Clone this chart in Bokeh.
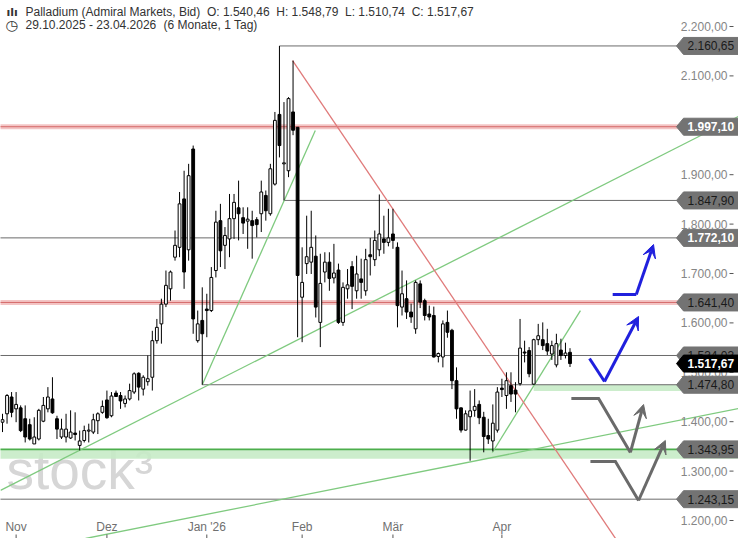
import numpy as np
from bokeh.plotting import figure
from bokeh.models import Label, Arrow, VeeHead, Range1d
from bokeh.core.properties import value
from bokeh.embed import file_html
from bokeh.resources import INLINE

# ---------------- data ----------------
opens = [1399, 1416, 1450, 1426, 1428, 1406, 1394, 1355, 1365, 1401,
         1426, 1446, 1406, 1369, 1369, 1367, 1377, 1352, 1362, 1381,
         1379, 1402, 1419, 1444, 1412, 1458, 1453, 1437, 1446, 1460,
         1498, 1466, 1481, 1490, 1564, 1598, 1638, 1669, 1733, 1753,
         1851, 1748, 1952, 1564, 1605, 1628, 1625, 1706, 1807, 1757,
         1770, 1811, 1833, 1813, 1806, 1807, 1809, 1821, 1858, 1821,
         1881, 2022, 1922, 1908, 2027, 1996, 1652, 1720, 1723, 1735,
         1601, 1703, 1723, 1691, 1707, 1601, 1669, 1714, 1665, 1689,
         1665, 1738, 1728, 1748, 1770, 1763, 1780, 1753, 1632, 1649,
         1622, 1588, 1679, 1645, 1618, 1615, 1532, 1531, 1601, 1585,
         1483, 1428, 1383, 1410, 1423, 1435, 1409, 1372, 1361, 1383,
         1468, 1453, 1473, 1464, 1477, 1541, 1544, 1476, 1566, 1566,
         1558, 1537, 1515, 1545, 1534, 1540.46]
highs = [1416, 1456, 1460, 1460, 1433, 1433, 1406, 1409, 1426, 1450,
         1470, 1490, 1412, 1406, 1416, 1423, 1419, 1382, 1392, 1396,
         1416, 1419, 1443, 1463, 1460, 1463, 1460, 1453, 1477, 1500,
         1500, 1494, 1534, 1584, 1608, 1649, 1706, 1706, 1787, 1865,
         1908, 1922, 1959, 1625, 1672, 1659, 1713, 1827, 1841, 1794,
         1861, 1861, 1888, 1834, 1834, 1827, 1814, 1888, 1868, 1922,
         2027, 2160.65, 2047, 2057, 2131, 1996, 1753, 1817, 1827, 1777,
         1740, 1743, 1743, 1760, 1720, 1682, 1709, 1725, 1736, 1730,
         1750, 1772, 1787, 1860, 1817, 1831, 1831, 1763, 1706, 1686,
         1639, 1686, 1686, 1649, 1635, 1633, 1540, 1605, 1625, 1588,
         1510, 1429, 1423, 1463, 1466, 1443, 1420, 1406, 1435, 1470,
         1487, 1500, 1500, 1480, 1608, 1564, 1551, 1568, 1598, 1601,
         1588, 1564, 1578, 1568, 1560, 1548.79]
lows = [1379, 1396, 1409, 1399, 1379, 1358, 1362, 1355, 1362, 1399,
        1419, 1416, 1365, 1365, 1358, 1365, 1362, 1342, 1358, 1358,
        1375, 1375, 1416, 1406, 1409, 1450, 1426, 1429, 1443, 1456,
        1443, 1453, 1473, 1463, 1558, 1558, 1632, 1645, 1726, 1733,
        1669, 1726, 1578, 1560, 1474.8, 1571, 1622, 1692, 1713, 1709,
        1733, 1770, 1767, 1780, 1750, 1730, 1773, 1784, 1807, 1817,
        1878, 1935, 1847.9, 1895, 1980, 1571, 1561, 1699, 1699, 1611,
        1551, 1682, 1665, 1680, 1598, 1594, 1649, 1628, 1649, 1649,
        1655, 1696, 1715, 1735, 1740, 1755, 1750, 1591, 1615, 1608,
        1600, 1578, 1630, 1605, 1605, 1530, 1520, 1510, 1570, 1466,
        1406, 1378, 1382, 1321, 1410, 1395, 1338, 1355, 1340, 1378,
        1450, 1426, 1440, 1419, 1473, 1520, 1490, 1474.8, 1555, 1545,
        1535, 1525, 1510, 1525, 1528, 1510.74]
closes = [1404, 1453, 1419, 1435, 1382, 1369, 1365, 1369, 1423, 1433,
          1450, 1418, 1385, 1385, 1385, 1379, 1374, 1361, 1382, 1383,
          1404, 1416, 1431, 1408, 1452, 1451, 1442, 1446, 1463, 1497,
          1470, 1490, 1487, 1564, 1591, 1638, 1676, 1703, 1757, 1841,
          1703, 1898, 1608, 1598, 1578, 1625, 1692, 1804, 1746, 1777,
          1811, 1844, 1821, 1802, 1810, 1797, 1799, 1865, 1827, 1912,
          2010, 1959, 1924, 2054, 1990, 1696, 1682, 1734, 1753, 1632,
          1680, 1723, 1690, 1701, 1601, 1672, 1677, 1674, 1699, 1682,
          1728, 1734, 1767, 1780, 1763, 1772, 1767, 1635, 1659, 1622,
          1612, 1682, 1642, 1615, 1612, 1531, 1538, 1598, 1581, 1483,
          1426, 1383, 1416, 1422, 1431, 1408, 1370, 1365, 1397, 1460,
          1465, 1483, 1456, 1456, 1549, 1539, 1497, 1566, 1574, 1554,
          1543, 1554, 1558, 1534, 1539, 1517.67]

period_text = "29.10.2025 - 23.04.2026"
period_note = "(6 Monate, 1 Tag)"
instrument = "Palladium (Admiral Markets, Bid)"

month_labels = ["Nov", "Dez", "Jan '26", "Feb", "Mär", "Apr"]
month_start_idx = [3, 23, 45, 66, 86, 110]   # candle index of first trading day
price_ticks = [1200, 1300, 1400, 1500, 1600, 1700, 1800, 1900, 2000, 2100, 2200]

# horizontal support / resistance levels
gray_levels = [2160.65, 1847.90, 1772.10, 1534.03, 1474.80, 1243.15]
gray_from = [61, 62, None, None, 44, None]
red_levels = [1997.10, 1641.40]
green_zone_top = [1343.95, 1474.80]
green_zone_bottom = [1325.0, 1462.0]
green_zone_from = [None, 117]

# trend lines (candle index, price)
green_x0 = [-0.44, 44.0, 18.3, 107.9]
green_y0 = [1261.0, 1474.8, 1163.6, 1337.7]
green_x1 = [162.1, 68.9, 162.1, 127.3]
green_y1 = [2018.0, 1989.5, 1426.7, 1625.0]
red_x = [63.9, 140.0]
red_y = [2131.0, 1096.0]

# scenario arrows (candle index, price)
blue1_x = [134.4, 139.6, 143.4]
blue1_y = [1657.5, 1657.5, 1758.7]
blue2_x = [129.3, 132.6, 140.1]
blue2_y = [1527.9, 1481.4, 1613.0]
gray1_x = [125.3, 131.3, 138.3, 141.2]
gray1_y = [1447.0, 1447.0, 1337.7, 1434.8]
gray2_x = [129.5, 135.0, 140.1, 146.0]
gray2_y = [1319.4, 1319.4, 1240.5, 1362.0]

# price tags on the right
tag_levels = [2160.65, 1997.10, 1847.90, 1772.10, 1641.40, 1534.03, 1474.80, 1343.95, 1243.15]
tag_text_colors = ["#1a1a1a", "white", "#1a1a1a", "white", "#1a1a1a", "#1a1a1a",
                   "#1a1a1a", "#1a1a1a", "#1a1a1a"]


def de(v):
    s = f"{v:,.2f}"
    return s.replace(",", "_").replace(".", ",").replace("_", ".")


# ---------------- layout helpers (pixel <-> data) ----------------
W, H = 738, 538
PX_PER_IDX = 4.54
X0_PX = 2.0          # pixel of candle index 0
PX_PER_VAL = 0.494
Y2200_PX = 26.0      # pixel row of price 2200


def ix(px):
    return (px - X0_PX) / PX_PER_IDX


def pv(py):
    return 2200 - (py - Y2200_PX) / PX_PER_VAL


XR = (ix(0), ix(W))
YR = (pv(H), pv(0))
FONT = "Liberation Sans"

n = len(opens)
idx = np.arange(n)
o = np.array(opens, float)
h = np.array(highs, float)
l = np.array(lows, float)
c = np.array(closes, float)
up = c >= o
dn = ~up

p = figure(width=W, height=H, x_range=Range1d(*XR), y_range=Range1d(*YR),
           x_axis_location=None, y_axis_location=None,
           output_backend="svg", toolbar_location=None,
           min_border_left=0, min_border_top=0, min_border_right=0, min_border_bottom=0)
p.outline_line_color = None
p.grid.visible = False
p.background_fill_color = "white"

# watermark
p.add_layout(Label(x=6, y=H - 469, x_units="screen", y_units="screen",
                   text="stock³", text_font=FONT, text_font_size="55px",
                   text_color="#d6d6d6", text_baseline="alphabetic", level="underlay"))

far_left, far_right = XR[0] - 5, XR[1] + 5

# green zones
for top, bot, start in zip(green_zone_top, green_zone_bottom, green_zone_from):
    x0 = far_left if start is None else start
    p.quad(left=x0, right=far_right, top=top, bottom=bot, fill_color="#c6ebc6",
           line_color=None, fill_alpha=0.9)
p.segment(x0=far_left, y0=green_zone_top[0], x1=far_right, y1=green_zone_top[0],
          line_color="#4cae4c", line_width=1.6)

# red resistance bands
for lv in red_levels:
    p.segment(x0=far_left, y0=lv, x1=far_right, y1=lv, line_color="#f3c4c4", line_width=5)
    p.segment(x0=far_left, y0=lv, x1=far_right, y1=lv, line_color="#d46a6a", line_width=1)

# gray levels
gx0 = [far_left if s is None else s for s in gray_from]
p.segment(x0=gx0, y0=gray_levels, x1=[far_right] * len(gray_levels), y1=gray_levels,
          line_color="#6b6b6b", line_width=1)

# trend lines
p.segment(x0=green_x0, y0=green_y0, x1=green_x1, y1=green_y1,
          line_color="#7fca7f", line_width=1.3)
p.line(red_x, red_y, line_color="#e07a7a", line_width=1.3)

# candles
p.segment(x0=idx, y0=h, x1=idx, y1=l, line_color="black", line_width=1)
p.vbar(x=idx[up], width=0.62, top=c[up], bottom=o[up], fill_color="white",
       line_color="black", line_width=1)
p.vbar(x=idx[dn], width=0.62, top=o[dn], bottom=c[dn], fill_color="black",
       line_color="black", line_width=1)

# scenario arrows
for xs, ys, col in [(blue1_x, blue1_y, "#2020dd"), (blue2_x, blue2_y, "#2020dd"),
                    (gray1_x, gray1_y, "#6a6a6a"), (gray2_x, gray2_y, "#6a6a6a")]:
    p.line(xs[:-1], ys[:-1], line_color=col, line_width=3, line_join="miter")
    p.add_layout(Arrow(x_start=xs[-2], y_start=ys[-2], x_end=xs[-1], y_end=ys[-1],
                       line_color=col, line_width=3,
                       end=VeeHead(size=13, fill_color=col, line_color=col, line_width=1)))

# price scale (right) and month scale (bottom)
p.text(x=[ix(727)] * len(price_ticks), y=price_ticks, text=[de(t) for t in price_ticks],
       text_align="right", text_baseline="middle", text_font=value(FONT),
       text_font_size="12px", text_color="#858585")
p.segment(x0=[ix(729)] * len(price_ticks), y0=price_ticks,
          x1=[ix(733)] * len(price_ticks), y1=price_ticks, line_color="#555555", line_width=1)
p.text(x=month_start_idx, y=[pv(526)] * len(month_labels), text=month_labels,
       text_align="center", text_baseline="middle", text_font=value(FONT),
       text_font_size="12px", text_color="#707070")
p.segment(x0=month_start_idx, y0=[pv(534)] * len(month_labels),
          x1=month_start_idx, y1=[pv(539)] * len(month_labels),
          line_color="#555555", line_width=1)

# price tags
HALF = 8.5 / PX_PER_VAL
t_tip, t_left, t_right, t_text = ix(676), ix(683), ix(W + 2), ix(687)


def tag(level, text_color, bg, bold=False):
    p.patch([t_tip, t_left, t_right, t_right, t_left],
            [level, level + HALF, level + HALF, level - HALF, level - HALF],
            fill_color=bg, line_color=bg, line_width=1)
    p.text(x=[t_text], y=[level], text=[de(level)], text_align="left",
           text_baseline="middle", text_font=value(FONT), text_font_size="12px",
           text_color=text_color, text_font_style="bold" if bold else "normal")


for lv, tc in zip(tag_levels[:6], tag_text_colors[:6]):
    tag(lv, tc, "#737373", tc == "white")
tag(closes[-1], "white", "black", True)
for lv, tc in zip(tag_levels[6:], tag_text_colors[6:]):
    tag(lv, tc, "#737373", tc == "white")

# header
sp = "\u00a0 "
line1 = (f"{instrument}{sp}O: {de(opens[-1])}{sp}H: {de(highs[-1])}"
         f"{sp}L: {de(lows[-1])}{sp}C: {de(closes[-1])}")
p.add_layout(Label(x=6, y=H - 11.5, x_units="screen", y_units="screen", text="ılı",
                   text_font="DejaVu Sans", text_font_size="11px", text_color="#333333",
                   text_baseline="middle", text_font_style="bold"))
p.add_layout(Label(x=25, y=H - 11.5, x_units="screen", y_units="screen", text=line1,
                   text_font=FONT, text_font_size="12px", text_color="#333333",
                   text_baseline="middle"))
p.add_layout(Label(x=5, y=H - 24.5, x_units="screen", y_units="screen", text="◷",
                   text_font="DejaVu Sans", text_font_size="14px", text_color="#333333",
                   text_baseline="middle"))
p.add_layout(Label(x=25, y=H - 24.5, x_units="screen", y_units="screen", text=period_text,
                   text_font=FONT, text_font_size="12px", text_color="#333333",
                   text_baseline="middle"))
p.add_layout(Label(x=163, y=H - 24.5, x_units="screen", y_units="screen", text=period_note,
                   text_font=FONT, text_font_size="12px", text_color="#333333",
                   text_baseline="middle"))

open("out.html", "w").write(file_html(p, INLINE))
